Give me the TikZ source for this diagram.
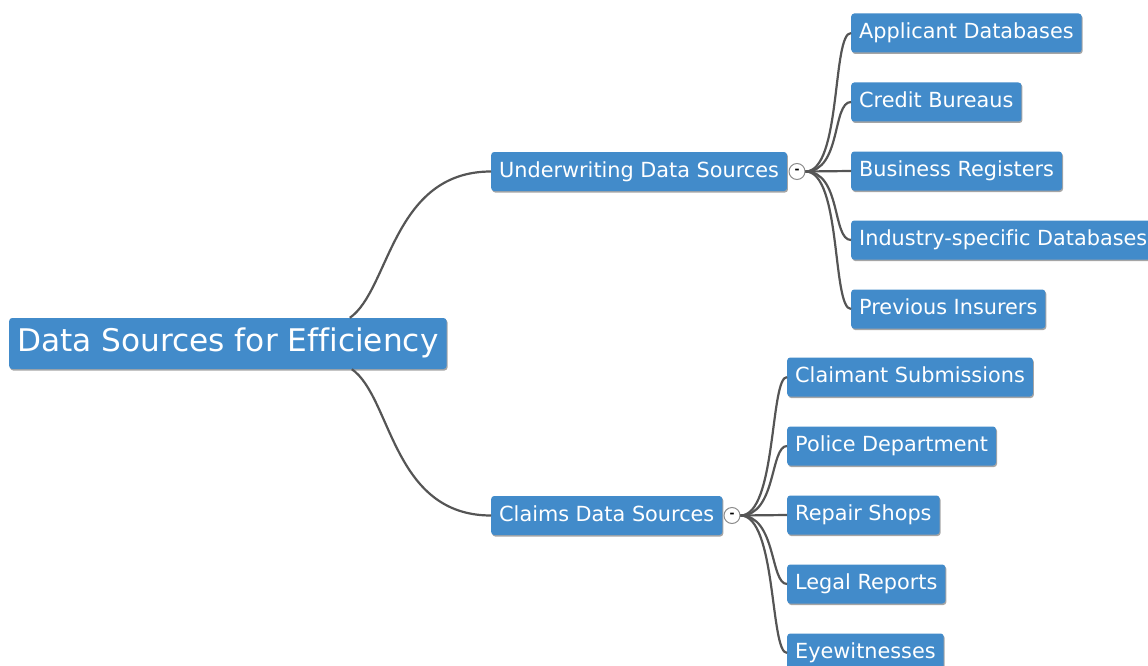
\documentclass[tikz,border=0pt]{standalone}
\usepackage{fontspec}
\setmainfont{DejaVu Sans}[Ligatures=CommonOff]
\usetikzlibrary{shadows}
\definecolor{topicblue}{HTML}{428BCA}
\definecolor{branchgray}{HTML}{555555}
\tikzset{
	topic/.style={fill=topicblue, text=white, rounded corners=3pt, anchor=west, inner xsep=8pt, inner ysep=0pt,
		drop shadow={shadow xshift=1pt, shadow yshift=-1.5pt, opacity=0.5, fill=black!70}},
	maintopic/.style={topic, minimum height=51pt, font=\fontsize{31.2}{37}\selectfont, text height=23pt, text depth=7pt},
	subtopic/.style={topic, minimum height=39pt, font=\fontsize{20.8}{25}\selectfont, text height=15.5pt, text depth=4.5pt},
	toggle/.style={circle, draw=black!45, fill=white, line width=1pt, minimum size=16pt, inner sep=0pt, font=\fontsize{12}{12}\selectfont\bfseries},
	branch/.style={draw=branchgray, line width=2.2pt}
}

\begin{document}
\begin{tikzpicture}[x=1pt, y=-1pt]
			%%%%% START %%%%%
			\useasboundingbox (0, 0) rectangle (1148, 666);
			
			\node[maintopic] (root) at (9, 343.5) {Data Sources for Efficiency};
			
			\node[subtopic] (uwsrc) at (491, 171.5) {Underwriting Data Sources};
			\node[subtopic] (clsrc) at (491, 515.5) {Claims Data Sources};
			
			\node[toggle] (uwtog) at (797, 171.5) {-};
			\node[toggle] (cltog) at (732, 515.5) {-};
			
			\node[subtopic] (applicant) at (851, 33) {Applicant Databases};
			\node[subtopic] (credit) at (851, 102) {Credit Bureaus};
			\node[subtopic] (business) at (851, 171) {Business Registers};
			\node[subtopic] (industry) at (851, 240) {Industry-specific Databases};
			\node[subtopic] (previous) at (851, 309) {Previous Insurers};
			
			\node[subtopic] (claimant) at (787, 377) {Claimant Submissions};
			\node[subtopic] (police) at (787, 446) {Police Department};
			\node[subtopic] (repair) at (787, 515) {Repair Shops};
			\node[subtopic] (legal) at (787, 584) {Legal Reports};
			\node[subtopic] (eyewit) at (787, 653) {Eyewitnesses};
			
			\draw[branch] ([xshift=122pt]root.north) .. controls +(40, -28) and +(-99, 0) .. (uwsrc.west);
			\draw[branch] ([xshift=124pt]root.south) .. controls +(40, 28) and +(-99, 0) .. (clsrc.west);
			
			\draw[branch] (uwtog.east) .. controls +(36, 0) and +(-19, 0) .. (applicant.west);
			\draw[branch] (uwtog.east) .. controls +(36, 0) and +(-19, 0) .. (credit.west);
			\draw[branch] (uwtog.east) -- (business.west);
			\draw[branch] (uwtog.east) .. controls +(36, 0) and +(-19, 0) .. (industry.west);
			\draw[branch] (uwtog.east) .. controls +(36, 0) and +(-19, 0) .. (previous.west);
			
			\draw[branch] (cltog.east) .. controls +(36, 0) and +(-17, 0) .. (claimant.west);
			\draw[branch] (cltog.east) .. controls +(36, 0) and +(-17, 0) .. (police.west);
			\draw[branch] (cltog.east) -- (repair.west);
			\draw[branch] (cltog.east) .. controls +(36, 0) and +(-17, 0) .. (legal.west);
			\draw[branch] (cltog.east) .. controls +(36, 0) and +(-17, 0) .. (eyewit.west);
			%%%%% END %%%%%
		\end{tikzpicture}
\end{document}
